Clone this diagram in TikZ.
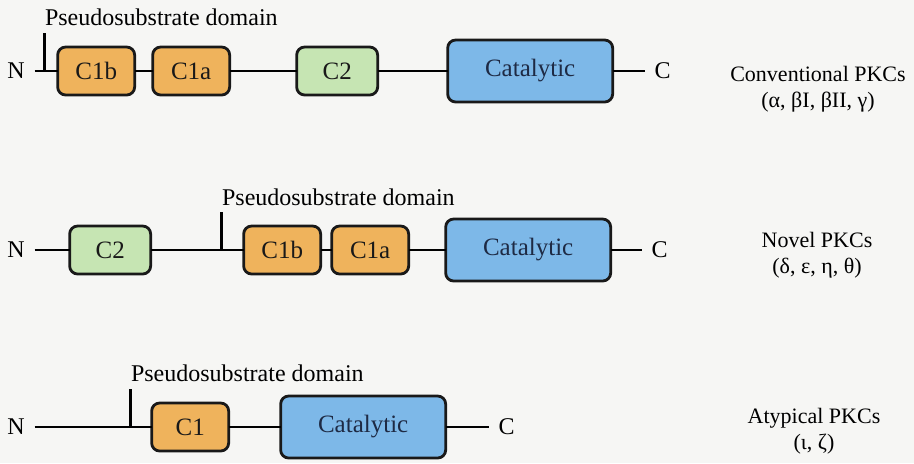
\documentclass[tikz,border=0pt]{standalone}
\usepackage{fontspec}
\setmainfont{Liberation Serif}
\usepackage{tikz}
\usetikzlibrary{positioning}

\definecolor{cone}{HTML}{EFB35C}
\definecolor{ctwo}{HTML}{C6E5B3}
\definecolor{ccat}{HTML}{7DB8E8}
\definecolor{cink}{HTML}{1E2A44}
\definecolor{paper}{HTML}{F6F6F4}

\begin{document}
\begin{tikzpicture}[x=0.5pt,y=-0.5pt,
    font=\fontsize{12}{13.5}\selectfont,
    dom/.style={draw=black!90, line width=1.4pt, rounded corners=4pt,
      minimum height=24pt, inner sep=0pt, outer sep=0pt, text=black!90,
      font=\fontsize{12.5}{14}\selectfont},
    c1dom/.style={dom, fill=cone, minimum width=38.5pt},
    c2dom/.style={dom, fill=ctwo, minimum width=40.5pt},
    catdom/.style={dom, fill=ccat, text=cink, minimum width=82.5pt, minimum height=31pt},
    term/.style={inner xsep=5pt, inner ysep=0pt, outer sep=0pt},
    backbone/.style={line width=1.2pt},
    psd/.style={inner sep=0pt},
    family/.style={align=center, font=\fontsize{11}{12.8}\selectfont}]

    \useasboundingbox[fill=paper] (0,0) rectangle (914,463);

    % conventional
    \node [term] (n1) at (16,71) {N};
    \node [c1dom, right=11.5pt of n1] (c1b1) {C1b};
    \node [c1dom, right=9pt of c1b1] (c1a1) {C1a};
    \node [c2dom, right=33.5pt of c1a1] (c21) {C2};
    \node [catdom, right=35pt of c21] (cat1) {Catalytic};
    \node [term, right=16pt of cat1] (cc1) {C};
    \draw [backbone] (n1) -- (c1b1) -- (c1a1) -- (c21) -- (cat1) -- (cc1);
    \coordinate (tk1) at ([xshift=-6.5pt]c1b1.west);
    \coordinate (tk1t) at ([yshift=19pt]tk1);
    \draw [backbone] (tk1) -- (tk1t);
    \node [psd, above right=3.5pt and 0pt of tk1t] (ps1) {Pseudosubstrate domain};
    \node [family] (fam1) at (818,89) {Conventional PKCs\\(α, βI, βII, γ)};

    % novel
    \node [term] (n2) at (16,250) {N};
    \node [c2dom, right=17.5pt of n2] (c22) {C2};
    \node [c1dom, right=46.5pt of c22] (c1b2) {C1b};
    \node [c1dom, right=5.5pt of c1b2] (c1a2) {C1a};
    \node [catdom, right=18.5pt of c1a2] (cat2) {Catalytic};
    \node [term, right=15.5pt of cat2] (cc2) {C};
    \draw [backbone] (n2) -- (c22) -- (c1b2) -- (c1a2) -- (cat2) -- (cc2);
    \coordinate (tk2) at ([xshift=-11pt]c1b2.west);
    \coordinate (tk2t) at ([yshift=19pt]tk2);
    \draw [backbone] (tk2) -- (tk2t);
    \node [psd, above right=3pt and 0pt of tk2t] (ps2) {Pseudosubstrate domain};
    \node [family] (fam2) at (817,255) {Novel PKCs\\(δ, ε, η, θ)};

    % atypical
    \node [term] (n3) at (16,427) {N};
    \node [c1dom, right=58.5pt of n3] (c13) {C1};
    \node [catdom, right=26pt of c13] (cat3) {Catalytic};
    \node [term, right=21.5pt of cat3] (cc3) {C};
    \draw [backbone] (n3) -- (c13) -- (cat3) -- (cc3);
    \coordinate (tk3) at ([xshift=-10.5pt]c13.west);
    \coordinate (tk3t) at ([yshift=19pt]tk3);
    \draw [backbone] (tk3) -- (tk3t);
    \node [psd, above right=3.5pt and 0pt of tk3t] (ps3) {Pseudosubstrate domain};
    \node [family] (fam3) at (814,431) {Atypical PKCs\\(ι, ζ)};
\end{tikzpicture}
\end{document}
